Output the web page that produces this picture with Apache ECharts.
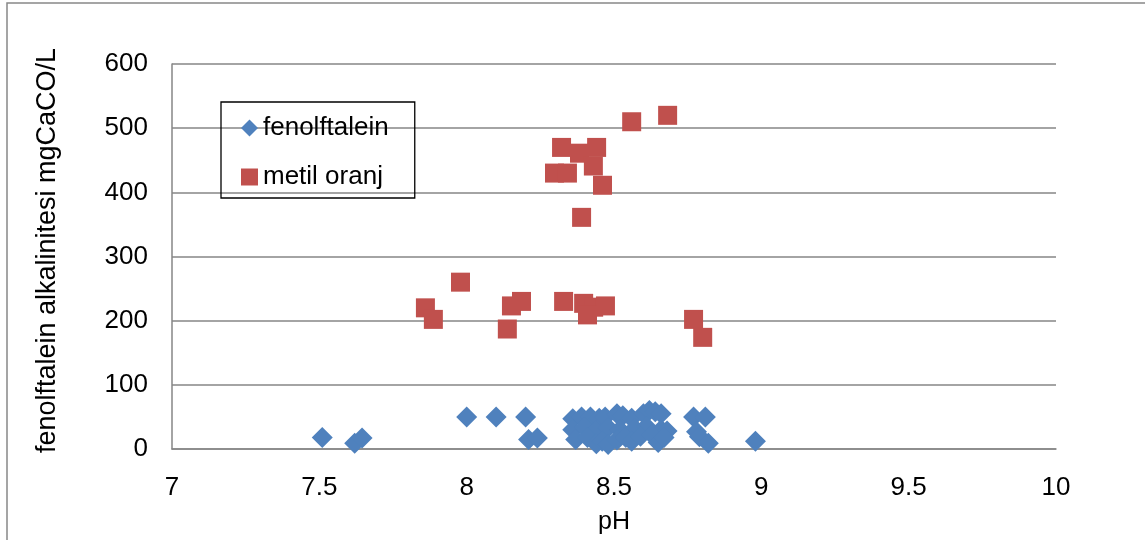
<!DOCTYPE html>
<html>
<head>
<meta charset="utf-8">
<script src="https://cdn.jsdelivr.net/npm/echarts@6/dist/echarts.min.js"></script>
<style>
html,body{margin:0;padding:0;background:#fff;}
#chart{width:1145px;height:540px;}
</style>
</head>
<body>
<div id="chart"></div>
<script>
// pH values and alkalinity for fenolftalein
const fenolPH = [7.51, 7.62, 7.645, 8.00, 8.10, 8.20, 8.21, 8.24,
  8.36, 8.39, 8.42, 8.45, 8.47, 8.51, 8.53, 8.56, 8.60, 8.62, 8.64, 8.66,
  8.36, 8.40, 8.44, 8.48, 8.52, 8.57, 8.61, 8.66, 8.68,
  8.37, 8.41, 8.44, 8.46, 8.48, 8.51, 8.54, 8.56, 8.59, 8.63, 8.65, 8.67,
  8.77, 8.81, 8.78, 8.79, 8.82, 8.98];
const fenolAlk = [18, 9, 17, 50, 50, 50, 15, 17,
  47, 50, 50, 48, 50, 55, 52, 48, 55, 60, 58, 55,
  30, 33, 28, 33, 30, 32, 35, 30, 28,
  15, 18, 8, 12, 7, 14, 18, 12, 20, 22, 10, 18,
  50, 50, 27, 19, 9, 12];
// pH values and alkalinity for metil oranj
const metilPH = [7.86, 7.887, 7.979, 8.138, 8.152, 8.186,
  8.329, 8.397, 8.431, 8.471, 8.41, 8.77, 8.801,
  8.56, 8.682, 8.322, 8.441, 8.383, 8.298, 8.342, 8.43, 8.461, 8.39];
const metilAlk = [220, 202, 260, 187, 223, 230,
  230, 227, 221, 223, 209, 202, 174,
  510, 520, 470, 470, 461, 430, 430, 441, 411, 361];
const seriesNames = ['fenolftalein', 'metil oranj'];
const xTicks = {min: 7, max: 10, interval: 0.5};
const yTicks = {min: 0, max: 600, interval: 100};
const xName = 'pH';
const yName = 'fenolftalein alkalinitesi mgCaCO/L';

const zip = (a, b) => a.map((v, i) => [v, b[i]]);
const font = 'Liberation Sans, Arial, sans-serif';
const chart = echarts.init(document.getElementById('chart'), null, {renderer: 'canvas'});
chart.setOption({
  animation: false,
  backgroundColor: '#fff',
  graphic: [{
    type: 'rect', shape: {x: 7, y: 3, width: 1160, height: 560},
    style: {fill: 'none', stroke: '#888', lineWidth: 1.5}, silent: true, z: -1
  }],
  grid: {left: 172, right: 89, top: 64, bottom: 91},
  legend: {
    orient: 'vertical', left: 221, top: 102,
    padding: [13, 26, 8, 20], itemGap: 23,
    itemWidth: 17, itemHeight: 17,
    borderColor: '#000', borderWidth: 1.3,
    textStyle: {fontFamily: font, fontSize: 26, color: '#000'},
    data: [{name: seriesNames[0], icon: 'diamond'}, {name: seriesNames[1], icon: 'rect'}]
  },
  xAxis: {
    type: 'value', min: xTicks.min, max: xTicks.max, interval: xTicks.interval,
    name: xName, nameLocation: 'middle', nameGap: 61,
    nameTextStyle: {fontFamily: font, fontSize: 25, color: '#000'},
    axisLine: {show: true, lineStyle: {color: '#868686', width: 1.5}},
    axisTick: {show: false},
    splitLine: {show: false},
    axisLabel: {fontFamily: font, fontSize: 26, color: '#000', margin: 26}
  },
  yAxis: {
    type: 'value', min: yTicks.min, max: yTicks.max, interval: yTicks.interval,
    name: yName, nameLocation: 'middle', nameGap: 111, nameRotate: 90,
    nameTextStyle: {fontFamily: font, fontSize: 27, color: '#000', padding: [0, 0, 0, 12]},
    axisLine: {show: true, lineStyle: {color: '#868686', width: 1.5}},
    axisTick: {show: false},
    splitLine: {show: true, lineStyle: {color: '#868686', width: 1.5}},
    axisLabel: {fontFamily: font, fontSize: 26, color: '#000', margin: 24}
  },
  series: [
    {
      name: seriesNames[0], type: 'scatter', symbol: 'diamond', symbolSize: 21,
      itemStyle: {color: '#4F81BD', opacity: 1},
      data: zip(fenolPH, fenolAlk)
    },
    {
      name: seriesNames[1], type: 'scatter', symbol: 'rect', symbolSize: 19,
      itemStyle: {color: '#C0504D', opacity: 1},
      data: zip(metilPH, metilAlk)
    }
  ]
});
</script>
</body>
</html>
